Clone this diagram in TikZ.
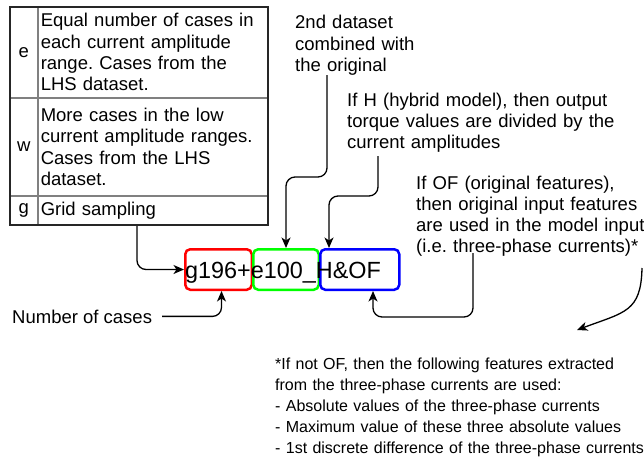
\documentclass[tikz,border=0pt]{standalone}
\usepackage{fontspec}
\setmainfont{Liberation Sans}
\usetikzlibrary{arrows.meta,calc}
\definecolor{brgreen}{RGB}{0,255,0}
\frenchspacing
\begin{document}
\begin{tikzpicture}[x=1pt,y=-1pt,
  txt/.style={inner sep=0pt, align=left, text width=#1, font=\fontsize{18.5}{21.3}\selectfont},
  txt/.default=360pt,
  onetxt/.style={inner sep=0pt, font=\fontsize{18.5}{21.3}\selectfont},
  conn/.style={line width=1.3pt, rounded corners=9pt, -{Stealth[length=10.5pt,width=9pt,inset=3pt]}},
  codebox/.style={draw=#1, line width=2.5pt, rounded corners=5pt, minimum height=40.5pt, inner sep=0pt, anchor=north west},
  keycell/.style={draw=gray, line width=1.5pt, minimum width=28pt, inner sep=0pt, anchor=north west, font=\fontsize{18.5}{21.3}\selectfont},
  desccell/.style={draw=gray, line width=1.5pt, minimum width=230pt, text width=224pt, inner xsep=3pt, inner ysep=0pt, align=left, anchor=north west, font=\fontsize{18.5}{21.3}\selectfont}
]
\useasboundingbox (0,0) rectangle (644,460);
\fill[white] (0,0) rectangle (644,460);

% table
\node[keycell, minimum height=91pt] (ke) at (9,6) {e};
\node[desccell, minimum height=91pt] (de) at (37,6) {Equal number of cases in\\each current amplitude\\range. Cases from the\\LHS dataset.};
\node[keycell, minimum height=98pt] (kw) at (9,97) {w};
\node[desccell, minimum height=98pt] (dw) at (37,97) {More cases in the low\\current amplitude ranges.\\Cases from the LHS\\dataset.};
\node[keycell, minimum height=29pt] (kg) at (9,195) {g};
\node[desccell, minimum height=29pt] (dg) at (37,195) {Grid sampling};
\node[draw=black!85, line width=2pt, minimum width=258pt, minimum height=218pt, inner sep=0pt, anchor=north west] (tbl) at (9,6) {};

% code boxes
\node[codebox=red, minimum width=66.5pt] (red) at (184,248) {};
\node[codebox=brgreen, minimum width=65.5pt] (green) at (252,248) {};
\node[codebox=blue, minimum width=79pt] (blue) at (319,248) {};
\node[anchor=base west, inner sep=0pt, font=\fontsize{23.4}{26}\selectfont] (code) at (185,278) {g196+e100\_H\&OF};

% texts
\node[txt, anchor=base west] (t2) at (295,29) {2nd dataset\\combined with\\the original};
\node[txt, anchor=base west] (tH) at (347,106) {If H (hybrid model), then output\\torque values are divided by the\\current amplitudes};
\node[txt, anchor=base west] (tOF) at (416,189) {If OF (original features),\\then original input features\\are used in the model input\\(i.e. three-phase currents)*};
\node[onetxt, anchor=base west] (nc) at (12,323) {Number of cases};
\node[inner sep=0pt, align=left, text width=380pt, font=\fontsize{16}{21}\selectfont, anchor=base west] (tnot) at (275,369) {*If not OF, then the following features extracted\\from the three-phase currents are used:\\- Absolute values of the three-phase currents\\- Maximum value of these three absolute values\\- 1st discrete difference of the three-phase currents};

% connector start points
\coordinate (s2) at (327,75);
\coordinate (sH) at (378,156);
\coordinate (sOF) at (473,253);
\coordinate (sa) at (642,268);
\coordinate (ea) at (577,330);

% connectors
\draw[conn] ($(tbl.south west)+(128,0)$) |- (red.west);
\draw[conn] (s2) -- (327,177) -| (green.north);
\draw[conn] (sH) -- (378,196) -| ($(blue.north west)+(10,0)$);
\draw[conn] ($(nc.east)+(10,0)$) -| ($(red.south)+(3,0)$);
\draw[conn] (sOF) -- (473,317) -| ($(blue.south west)+(54,0)$);
\draw[line width=1.3pt, -{Stealth[length=10.5pt,width=9pt,inset=3pt]}] (sa) .. controls (641,312) and (625,312) .. (ea);
\end{tikzpicture}
\end{document}
